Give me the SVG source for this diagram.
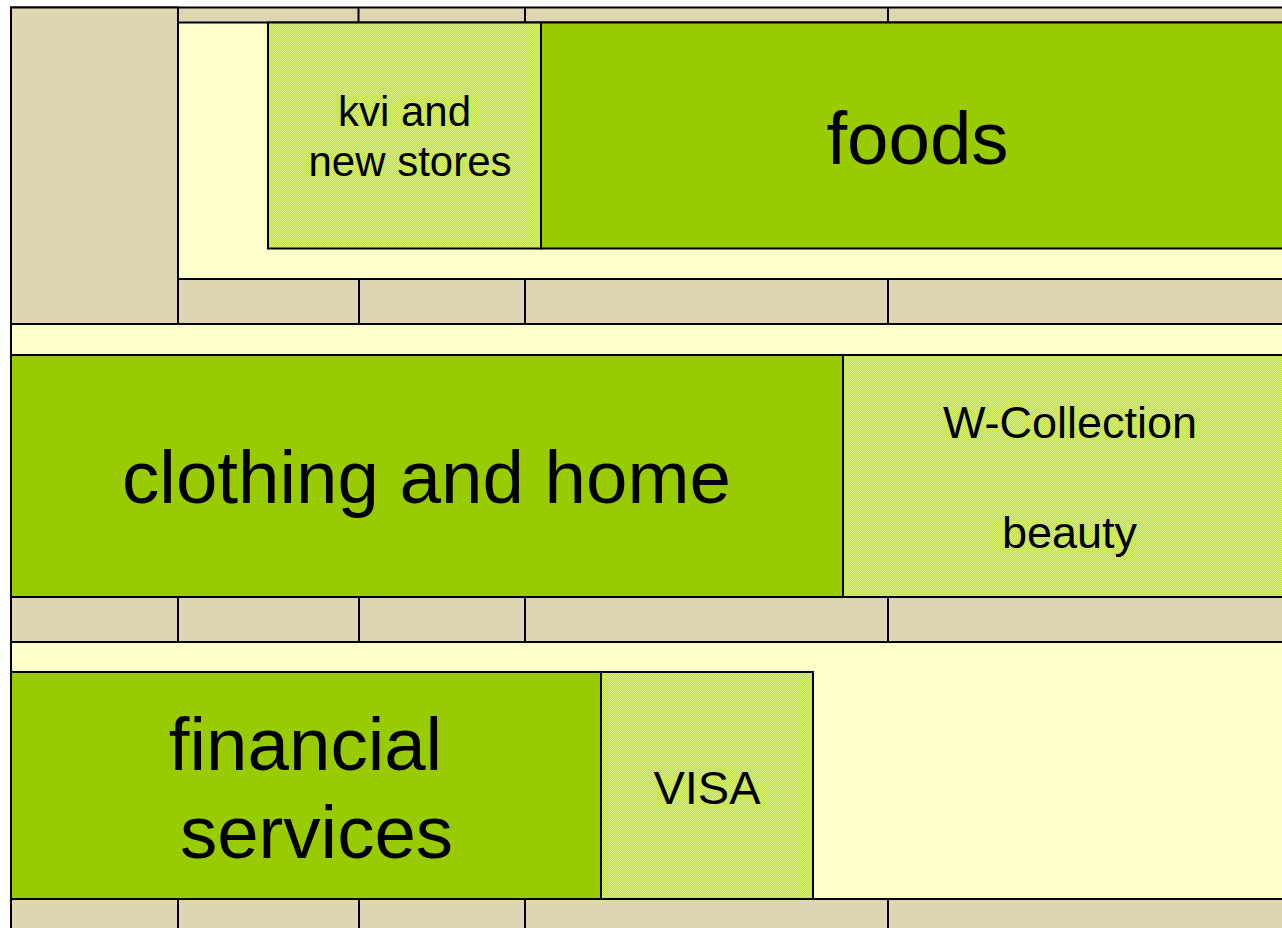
<svg xmlns="http://www.w3.org/2000/svg" width="1282" height="928" viewBox="0 0 1282 928">
  <defs>
    <!-- fine checker used for the secondary blocks -->
    <pattern id="check" width="2" height="2" patternUnits="userSpaceOnUse">
      <rect width="2" height="2" fill="#c2e244"/>
      <rect width="1" height="1" fill="#d6ef74"/>
      <rect x="1" y="1" width="1" height="1" fill="#d6ef74"/>
    </pattern>
    <style>
      .tan { fill: #ded6b0; stroke: #000; stroke-width: 2; }
      .cream { fill: #ffffcc; stroke: #000; stroke-width: 2; }
      .main { fill: #99cc00; stroke: #000; stroke-width: 2; }
      .sub { fill: url(#check); stroke: #000; stroke-width: 2; }
      .div { stroke: #000; stroke-width: 2; }
      text { font-family: "Liberation Sans", Arial, sans-serif; fill: #000; text-anchor: middle; }
      .big { font-size: 74.5px; }
      .mid { font-size: 45px; }
      .small { font-size: 42px; }
    </style>
  </defs>

  <rect width="1282" height="928" fill="#ffffff"/>

  <!-- shelving frame -->
  <g id="frame">
    <rect class="tan" x="11" y="7.5" width="1275" height="16"/>
    <rect class="tan" x="11" y="7.5" width="167" height="317"/>
    <rect class="tan" x="178" y="279" width="1108" height="45"/>
    <rect class="cream" x="178" y="22.5" width="1108" height="256.5"/>
    <rect class="cream" x="11" y="324" width="1275" height="31"/>
    <rect class="tan" x="11" y="597" width="1275" height="45"/>
    <rect class="cream" x="11" y="642" width="1275" height="257"/>
    <rect class="tan" x="11" y="899" width="1275" height="40"/>
    <g class="div">
      <line x1="358.5" y1="7.5" x2="358.5" y2="22.5"/>
      <line x1="525" y1="7.5" x2="525" y2="22.5"/>
      <line x1="888" y1="7.5" x2="888" y2="22.5"/>
      <line x1="359" y1="279" x2="359" y2="324"/>
      <line x1="525" y1="279" x2="525" y2="324"/>
      <line x1="888" y1="279" x2="888" y2="324"/>
      <line x1="178" y1="597" x2="178" y2="642"/>
      <line x1="359" y1="597" x2="359" y2="642"/>
      <line x1="525" y1="597" x2="525" y2="642"/>
      <line x1="888" y1="597" x2="888" y2="642"/>
      <line x1="178" y1="899" x2="178" y2="928"/>
      <line x1="359" y1="899" x2="359" y2="928"/>
      <line x1="525" y1="899" x2="525" y2="928"/>
      <line x1="888" y1="899" x2="888" y2="928"/>
    </g>
  </g>

  <g id="kvi">
    <rect class="sub" x="268" y="22.5" width="273" height="226"/>
    <text class="small" x="404.5" y="126">kvi and</text>
    <text class="small" x="410" y="176">new stores</text>
  </g>

  <g id="foods">
    <rect class="main" x="541" y="22.5" width="745" height="226"/>
    <text class="big" x="917.5" y="164">foods</text>
  </g>

  <g id="clothing">
    <rect class="main" x="11" y="355" width="832" height="242"/>
    <text class="big" x="426.5" y="503">clothing and home</text>
  </g>

  <g id="wcollection">
    <rect class="sub" x="843" y="355" width="443" height="242"/>
    <text class="mid" x="1070" y="438">W-Collection</text>
    <text class="mid" x="1069.5" y="548">beauty</text>
  </g>

  <g id="financial">
    <rect class="main" x="11" y="672" width="590" height="227"/>
    <text class="big" x="305.5" y="770">financial</text>
    <text class="big" x="316.5" y="858">services</text>
  </g>

  <g id="visa">
    <rect class="sub" x="601" y="672" width="212" height="227"/>
    <text class="mid" x="707" y="804" style="font-size:47px">VISA</text>
  </g>

  <!-- no connectors in this layout -->
  <g id="connectors"/>
</svg>
